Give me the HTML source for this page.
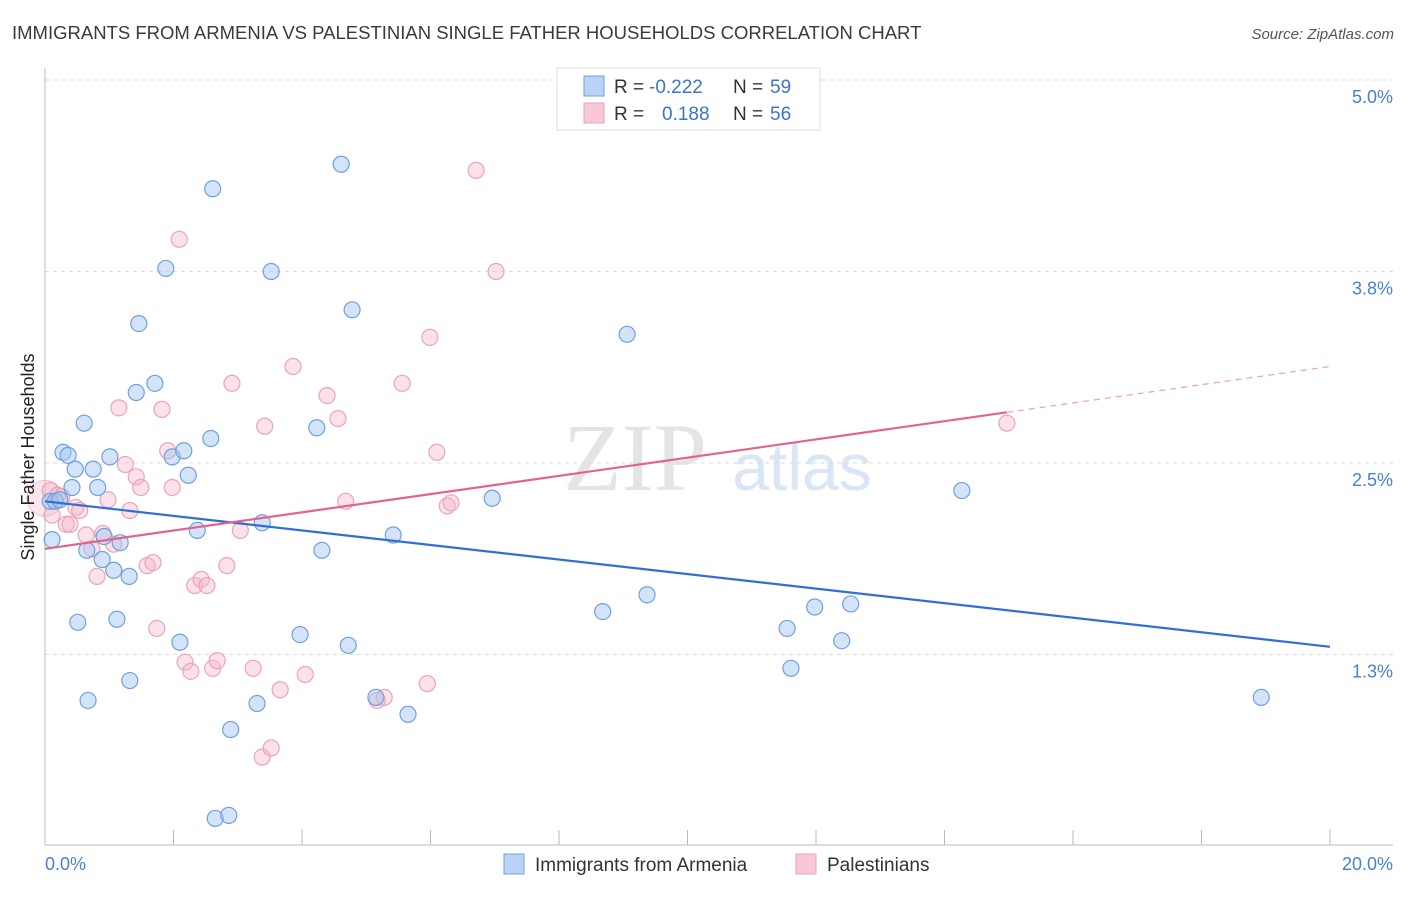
<!DOCTYPE html>
<html><head><meta charset="utf-8"><style>
body{margin:0;background:#fff;font-family:"Liberation Sans",sans-serif;}
</style></head><body>
<svg id="chart" width="1406" height="892" xmlns="http://www.w3.org/2000/svg">
<text x="12" y="39" font-size="18.5" fill="#3a3a3a">IMMIGRANTS FROM ARMENIA VS PALESTINIAN SINGLE FATHER HOUSEHOLDS CORRELATION CHART</text>
<text x="1394" y="39" font-size="15" fill="#555" font-style="italic" text-anchor="end">Source: ZipAtlas.com</text>
<g>
<text x="635" y="490" font-size="96" fill="#e4e4e4" font-family="Liberation Serif,serif" text-anchor="middle">ZIP</text>
<text x="802" y="490" font-size="66" fill="#d8e6f6" text-anchor="middle">atlas</text>
</g>
<g id="grid"></g><g id="axes"></g><g id="marks"></g>
<g>
<rect x="557" y="68" width="263" height="62" fill="#fff" stroke="#ddd"/>
<rect x="584" y="76" width="20" height="20" fill="#b8d3f5" stroke="#6fa0e0"/>
<rect x="584" y="103" width="20" height="20" fill="#f9c8d7" stroke="#e9a0b8"/>
<text x="614" y="93" font-size="19" fill="#333">R =</text>
<text x="649" y="93" font-size="19" fill="#3a74cc">-0.222</text>
<text x="733" y="93" font-size="19" fill="#333">N =</text>
<text x="770" y="93" font-size="19" fill="#3a74cc">59</text>
<text x="614" y="120" font-size="19" fill="#333">R =</text>
<text x="662" y="120" font-size="19" fill="#3a74cc">0.188</text>
<text x="733" y="120" font-size="19" fill="#333">N =</text>
<text x="770" y="120" font-size="19" fill="#3a74cc">56</text>
</g>
<g>
<rect x="504" y="854" width="20" height="20" fill="#b8d3f5" stroke="#6fa0e0"/>
<text x="535" y="871" font-size="19" fill="#333">Immigrants from Armenia</text>
<rect x="796" y="854" width="20" height="20" fill="#f9c8d7" stroke="#e9a0b8"/>
<text x="827" y="871" font-size="19" fill="#333">Palestinians</text>
</g>
<text transform="translate(34,457) rotate(-90)" font-size="18" fill="#222" text-anchor="middle">Single Father Households</text>
</svg>
<script>
const blueX=[0.08,0.16,0.23,0.11,0.28,0.36,0.42,0.47,0.61,0.65,0.75,0.82,0.89,0.92,1.01,1.07,1.17,1.12,1.31,0.51,0.67,1.32,1.42,1.46,1.71,1.88,1.98,2.16,2.23,2.10,2.37,2.58,2.61,2.65,2.86,2.89,3.30,3.38,3.52,3.97,4.23,4.31,4.61,4.72,4.78,5.15,5.42,5.65,6.96,8.68,9.06,9.37,11.55,11.61,11.98,12.40,12.54,14.27,18.93];
const blueY=[2.25,2.25,2.26,2.00,2.57,2.55,2.34,2.46,2.76,1.93,2.46,2.34,1.87,2.02,2.54,1.80,1.98,1.48,1.76,1.46,0.95,1.08,2.96,3.41,3.02,3.77,2.54,2.58,2.42,1.33,2.06,2.66,4.29,0.18,0.20,0.76,0.93,2.11,3.75,1.38,2.73,1.93,4.45,1.31,3.50,0.97,2.03,0.86,2.27,1.53,3.34,1.64,1.42,1.16,1.56,1.34,1.58,2.32,0.97];
const pinkX=[0.08,0.11,0.20,0.26,0.33,0.39,0.48,0.54,0.64,0.73,0.81,0.90,0.98,1.07,1.15,1.25,1.32,1.42,1.49,1.59,1.68,1.74,1.82,1.91,1.98,2.09,2.18,2.27,2.33,2.43,2.52,2.61,2.68,2.83,2.91,3.04,3.24,3.38,3.42,3.52,3.66,3.86,4.05,4.39,4.56,4.68,5.17,5.28,5.56,5.95,5.99,6.10,6.26,6.32,6.71,7.02,14.97];
const pinkY=[2.32,2.16,2.29,2.28,2.10,2.10,2.21,2.19,2.03,1.94,1.76,2.04,2.26,1.97,2.86,2.49,2.19,2.41,2.34,1.83,1.85,1.42,2.85,2.58,2.34,3.96,1.20,1.14,1.70,1.74,1.70,1.16,1.21,1.83,3.02,2.06,1.16,0.58,2.74,0.64,1.02,3.13,1.12,2.94,2.79,2.25,0.95,0.97,3.02,1.06,3.32,2.57,2.22,2.24,4.41,3.75,2.76];
const blueTrend=[2.25,1.30];
const pinkTrend=[1.94,3.13];
const pinkSolidEnd=14.97;
const yTicks=[5.0,3.75,2.5,1.25];
const yTickLabels=["5.0%","3.8%","2.5%","1.3%"];
const xTicks=[0,2,4,6,8,10,12,14,16,18,20];
const NS="http://www.w3.org/2000/svg";
const sx=v=>45+v*64.25, sy=v=>80+(5-v)*153.2;
function mk(tag,attrs,parent){const e=document.createElementNS(NS,tag);for(const k in attrs)e.setAttribute(k,attrs[k]);parent.appendChild(e);return e;}
const grid=document.getElementById('grid'),axes=document.getElementById('axes'),marks=document.getElementById('marks');
yTicks.forEach((t,i)=>{
 const l=mk('line',{x1:45,x2:1393,y1:sy(t),y2:sy(t),stroke:'#ddd','stroke-dasharray':'4,4'},grid);
 
 
 const tx=mk('text',{x:1393,y:sy(t)+23,'font-size':18,fill:'#4a7fd0','text-anchor':'end'},axes);
 tx.textContent=yTickLabels[i];
 
 
});
const ax=mk('line',{x1:45,x2:45,y1:68,y2:845,stroke:'#bbb'},axes);


const bx=mk('line',{x1:45,x2:1393,y1:845,y2:845,stroke:'#bbb'},axes);


xTicks.forEach(t=>{const l=mk('line',{x1:sx(t),x2:sx(t),y1:830,y2:845,stroke:'#bbb'},axes);
 
 });
const xl0=mk('text',{x:45,y:870,'font-size':18,fill:'#4a7fd0'},axes);xl0.textContent='0.0%';


const xl1=mk('text',{x:1393,y:870,'font-size':18,fill:'#4a7fd0','text-anchor':'end'},axes);xl1.textContent='20.0%';


const big=mk('circle',{cx:sx(0),cy:sy(2.27),r:18,fill:'rgba(245,170,195,0.3)',stroke:'rgba(233,150,180,0.5)'},marks);


pinkX.forEach((x,i)=>{const c=mk('circle',{cx:sx(x),cy:sy(pinkY[i]),r:8,fill:'rgba(246,180,202,0.4)',stroke:'#eba3bc','stroke-width':1.2},marks);
 
 });
blueX.forEach((x,i)=>{const c=mk('circle',{cx:sx(x),cy:sy(blueY[i]),r:8,fill:'rgba(160,196,240,0.45)',stroke:'#6fa0e0','stroke-width':1.2},marks);
 
 });
const bt=mk('line',{x1:sx(0),y1:sy(blueTrend[0]),x2:sx(20),y2:sy(blueTrend[1]),stroke:'#2f6fd6','stroke-width':2.2},marks);


const pm=pinkTrend[0]+(pinkTrend[1]-pinkTrend[0])*pinkSolidEnd/20;
const pt=mk('line',{x1:sx(0),y1:sy(pinkTrend[0]),x2:sx(pinkSolidEnd),y2:sy(pm),stroke:'#e2648e','stroke-width':2.2},marks);


const pd=mk('line',{x1:sx(pinkSolidEnd),y1:sy(pm),x2:sx(20),y2:sy(pinkTrend[1]),stroke:'#e9a0b8','stroke-width':1.2,'stroke-dasharray':'6,5'},marks);


</script>
</body></html>
